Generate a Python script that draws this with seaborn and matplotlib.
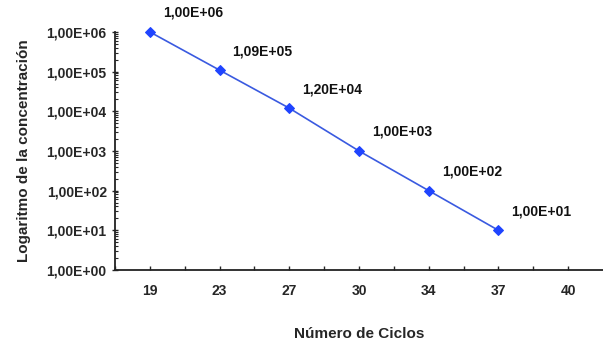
import matplotlib
matplotlib.use("Agg")
import matplotlib.pyplot as plt
import matplotlib.ticker as mticker
import numpy as np
import pandas as pd
import seaborn as sns

# Cycle numbers shown on the x axis and the concentration at each cycle
ciclos = ["19", "23", "27", "30", "34", "37", "40"]
concentracion = [1.00e6, 1.09e5, 1.20e4, 1.00e3, 1.00e2, 1.00e1]
etiquetas = ["1,00E+06", "1,09E+05", "1,20E+04", "1,00E+03", "1,00E+02", "1,00E+01"]

sns.set_style("white")
plt.rcParams["font.family"] = ["Liberation Sans", "DejaVu Sans"]
plt.rcParams["font.weight"] = "bold"

df = pd.DataFrame({"pos": np.arange(len(concentracion)), "conc": concentracion})

fig = plt.figure(figsize=(6.03, 3.45), dpi=100)
ax = fig.add_axes([0.1907, 0.2174, 0.8093, 0.69])

sns.lineplot(data=df, x="pos", y="conc", ax=ax, color="#3a5ae0", linewidth=1.2,
             marker="D", markersize=5, markerfacecolor="#1f44ff",
             markeredgecolor="#1f44ff", clip_on=False)

ax.set_yscale("log")
ax.set_ylim(1, 1e6)
ax.set_xlim(-0.5, 6.5)

def fmt_sci(v, _):
    if v <= 0:
        return ""
    e = int(round(np.log10(v)))
    return f"1,00E{'+' if e >= 0 else '-'}{abs(e):02d}"

ax.yaxis.set_major_locator(mticker.LogLocator(base=10, numticks=10))
ax.yaxis.set_major_formatter(mticker.FuncFormatter(fmt_sci))
ax.yaxis.set_minor_locator(mticker.LogLocator(base=10, subs=np.arange(2, 10), numticks=20))
ax.yaxis.set_minor_formatter(mticker.NullFormatter())

ax.set_xticks(np.arange(len(ciclos)))
ax.set_xticklabels(ciclos)
ax.set_xticks(np.arange(-0.5, 6.5, 1.0), minor=True)

for s in ["top", "right"]:
    ax.spines[s].set_visible(False)
for s in ["left", "bottom"]:
    ax.spines[s].set_color("#222222")
    ax.spines[s].set_linewidth(1.3)

ax.tick_params(axis="y", which="major", direction="inout", length=4, width=1,
               labelsize=10, pad=4, left=True)
ax.tick_params(axis="y", which="minor", direction="in", length=2.5, width=0.8, left=True)
ax.tick_params(axis="x", which="both", direction="in", length=3, width=1,
               labelsize=10, pad=10, bottom=True)

for lab in ax.get_xticklabels() + ax.get_yticklabels():
    lab.set_fontweight("bold")

for x, y, t in zip(df["pos"], df["conc"], etiquetas):
    ax.annotate(t, (x, y), xytext=(43, 19), textcoords="offset pixels",
                ha="center", va="center", fontsize=10, fontweight="bold",
                color="#111111", annotation_clip=False)

ax.set_xlabel("Número de Ciclos", fontsize=11, fontweight="bold", labelpad=21)
ax.set_ylabel("Logaritmo de la concentración", fontsize=11, fontweight="bold", labelpad=11)

fig.savefig("out.png", dpi=100)
